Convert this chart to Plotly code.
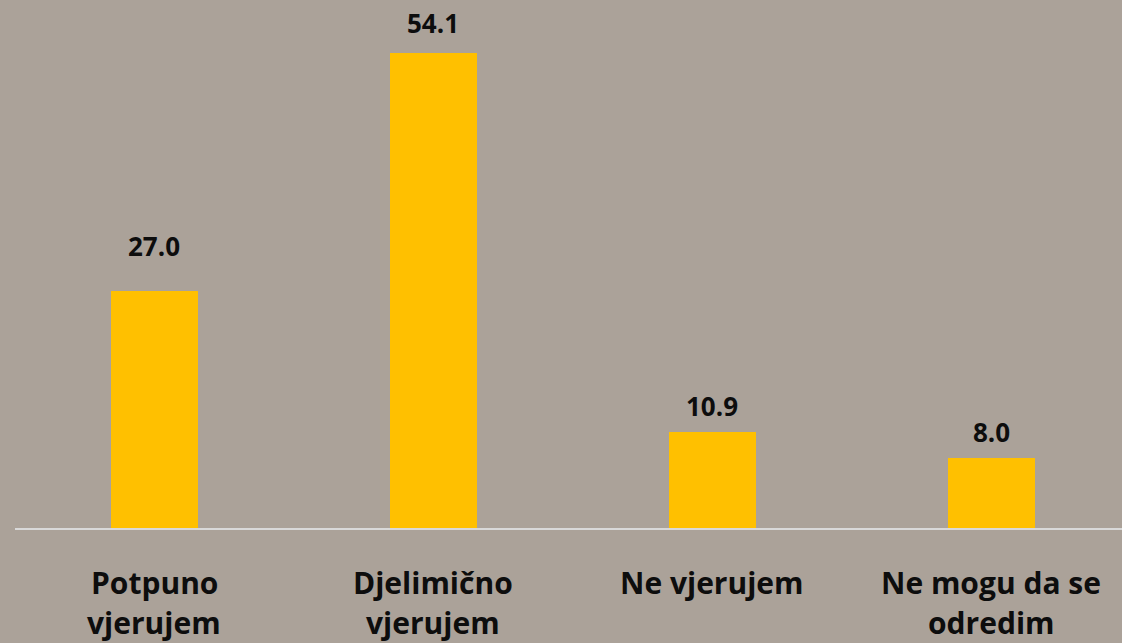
import plotly.graph_objects as go

categories = ["Potpuno<br>vjerujem", "Djelimično<br>vjerujem", "Ne vjerujem", "Ne mogu da se<br>odredim"]
values = [27.0, 54.1, 10.9, 8.0]
value_labels = ["27.0", "54.1", "10.9", "8.0"]
label_shift = [25, 10, 6, 6]

bg = "#ABA299"
txt = "#0D0D0D"
fig = go.Figure()
fig.add_trace(go.Bar(
    x=list(range(len(categories))), y=values,
    marker=dict(color="#FFC000", line=dict(width=0)),
    width=0.315,
))
for i, (v, t, s) in enumerate(zip(values, value_labels, label_shift)):
    fig.add_annotation(x=i, y=v, text=f"<b>{t}</b>", showarrow=False,
                       yanchor="bottom", yshift=s,
                       font=dict(family="Open Sans", size=26, color=txt))

line_offsets = [-54, -94]
for i, c in enumerate(categories):
    for j, line in enumerate(c.split("<br>")):
        fig.add_annotation(x=i, y=0, xref="x", yref="paper", text=f"<b>{line}</b>",
                           showarrow=False, yanchor="middle", yshift=line_offsets[j],
                           font=dict(family="Open Sans", size=30, color=txt))

fig.update_layout(
    width=1122, height=643,
    paper_bgcolor=bg, plot_bgcolor=bg,
    margin=dict(l=15, r=0, t=0, b=115),
    showlegend=False,
    bargap=0,
)
fig.update_xaxes(
    range=[-0.5, 3.468],
    tickmode="array", tickvals=list(range(len(categories))),
    showticklabels=False,
    showline=True, linecolor="#D9D9D9", linewidth=2,
    showgrid=False, zeroline=False, ticks="", ticklen=0,
)
fig.update_yaxes(range=[0, 60.1], visible=False, showgrid=False, zeroline=False)
fig.write_html("out.html", config={"displayModeBar": False},
               post_script="document.body.style.margin='0';document.body.style.overflow='hidden';")
